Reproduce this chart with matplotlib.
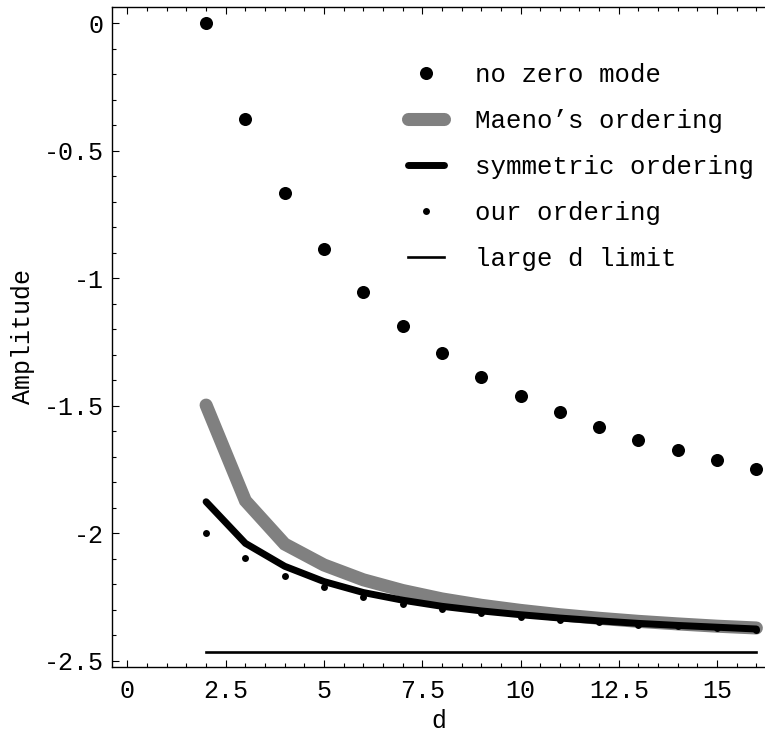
import matplotlib
matplotlib.use("Agg")
import matplotlib.pyplot as plt
from matplotlib.lines import Line2D
from matplotlib.legend_handler import HandlerLine2D
from matplotlib.ticker import MultipleLocator, FuncFormatter

plt.rcParams['font.family'] = ['Liberation Mono', 'DejaVu Sans Mono']
plt.rcParams['axes.unicode_minus'] = False

# values
d = [2, 3, 4, 5, 6, 7, 8, 9, 10, 11, 12, 13, 14, 15, 16]
no_zero_mode = [0.0, -0.376, -0.668, -0.886, -1.055, -1.188, -1.295, -1.387,
                -1.461, -1.527, -1.583, -1.633, -1.676, -1.714, -1.749]
maeno = [-1.498, -1.873, -2.043, -2.125, -2.183, -2.225, -2.258, -2.283,
         -2.303, -2.320, -2.334, -2.346, -2.356, -2.365, -2.372]
symmetric = [-1.877, -2.040, -2.130, -2.190, -2.233, -2.263, -2.287, -2.305,
             -2.320, -2.333, -2.344, -2.354, -2.362, -2.369, -2.376]
ours = [-2.000, -2.097, -2.167, -2.213, -2.250, -2.277, -2.297, -2.314,
        -2.328, -2.340, -2.350, -2.359, -2.366, -2.373, -2.379]
large_d_limit = -2.466
labels = ["no zero mode", "Maeno\u2019s ordering", "symmetric ordering",
          "our ordering", "large d limit"]

GRAY = '#808080'


class EndMarker(HandlerLine2D):
    # Mathematica puts the legend dot at the right end of the sample
    def get_xdata(self, legend, xdescent, ydescent, width, height, fontsize):
        xdata, _ = super().get_xdata(legend, xdescent, ydescent, width, height, fontsize)
        return xdata, [-xdescent + width - 1]


fig = plt.figure(figsize=(7.65, 7.38), dpi=100)
ax = fig.add_axes([112 / 765, 71 / 738, 1 - 112 / 765, 660 / 738])

ax.plot(d, no_zero_mode, 'o', color='black', ms=9.4, mec='none')
ax.plot(d, maeno, color=GRAY, lw=9.4, solid_capstyle='round', solid_joinstyle='miter')
ax.plot(d, ours, 'o', color='black', ms=5, mec='none')
ax.plot(d, symmetric, color='black', lw=5, solid_capstyle='round', solid_joinstyle='miter')
ax.plot([d[0], d[-1]], [large_d_limit, large_d_limit], color='black', lw=1.9)

ax.set_xlim(-0.394, 16.22)
ax.set_ylim(-2.525, 0.063)

ax.spines['right'].set_visible(False)
for s in ['left', 'bottom', 'top']:
    ax.spines[s].set_linewidth(1.0)

ax.xaxis.set_major_locator(MultipleLocator(2.5))
ax.xaxis.set_minor_locator(MultipleLocator(0.5))
ax.yaxis.set_major_locator(MultipleLocator(0.5))
ax.yaxis.set_minor_locator(MultipleLocator(0.1))
fmt = FuncFormatter(lambda v, p: '%g' % round(v, 3) if abs(v) > 1e-9 else '0')
ax.xaxis.set_major_formatter(fmt)
ax.yaxis.set_major_formatter(fmt)
ax.tick_params(which='both', direction='in', top=True, right=False, width=0.8)
ax.tick_params(which='major', length=5, labelsize=18)
ax.tick_params(which='minor', length=3)
ax.tick_params(axis='x', which='major', pad=9)
ax.tick_params(axis='y', which='major', pad=6)

ax.set_xlabel('d', fontsize=18, labelpad=4)
ax.set_ylabel('Amplitude', fontsize=18, labelpad=6)

handles = [
    Line2D([], [], ls='none', marker='o', color='black', ms=9.4, mec='none'),
    Line2D([], [], color=GRAY, lw=9.4, solid_capstyle='round'),
    Line2D([], [], color='black', lw=5, solid_capstyle='round'),
    Line2D([], [], ls='none', marker='o', color='black', ms=5, mec='none'),
    Line2D([], [], color='black', lw=1.9),
]
hmap = {handles[0]: EndMarker(numpoints=1), handles[3]: EndMarker(numpoints=1)}
fig.legend(handles, labels, handler_map=hmap, loc='upper left',
           bbox_to_anchor=(408 / 765, 1 - 63 / 738), frameon=False,
           fontsize=18.5, handlelength=1.4, handletextpad=1.2,
           labelspacing=0.86, borderpad=0, borderaxespad=0)

fig.savefig('out.png', dpi=100)
